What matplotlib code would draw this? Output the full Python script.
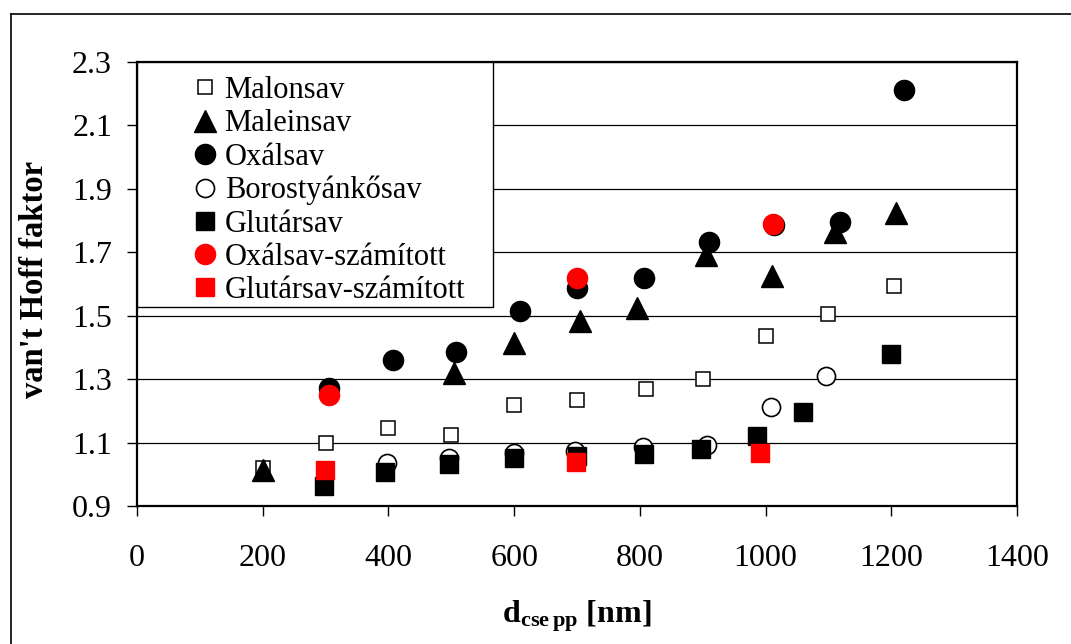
import matplotlib
matplotlib.use("Agg")
import matplotlib.pyplot as plt
from matplotlib.patches import Rectangle
from matplotlib.lines import Line2D

plt.rcParams['font.family'] = ['Liberation Serif', 'DejaVu Serif']
plt.rcParams['mathtext.fontset'] = 'custom'
plt.rcParams['mathtext.rm'] = 'Liberation Serif'
plt.rcParams['mathtext.bf'] = 'Liberation Serif:bold'

# measured van't Hoff factors vs. droplet diameter [nm]
malon_x = [200, 300, 400, 500, 600, 700, 810, 900, 1000, 1100, 1205]
malon_y = [1.02, 1.10, 1.145, 1.125, 1.22, 1.234, 1.27, 1.30, 1.436, 1.504, 1.594]

malein_x = [200, 505, 600, 705, 795, 905, 1010, 1110, 1207]
malein_y = [1.013, 1.32, 1.414, 1.483, 1.523, 1.69, 1.625, 1.765, 1.825]

oxal_x = [305, 407, 507, 610, 700, 806, 910, 1013, 1118, 1220]
oxal_y = [1.271, 1.36, 1.385, 1.515, 1.586, 1.618, 1.731, 1.785, 1.796, 2.212]

boro_x = [398, 497, 600, 697, 805, 907, 1008, 1096]
boro_y = [1.037, 1.05, 1.068, 1.075, 1.086, 1.093, 1.213, 1.31]

glut_x = [297, 395, 497, 599, 700, 806, 897, 987, 1059, 1200]
glut_y = [0.963, 1.007, 1.031, 1.05, 1.058, 1.064, 1.081, 1.12, 1.197, 1.378]

oxal_calc_x = [305, 700, 1012]
oxal_calc_y = [1.25, 1.618, 1.79]

glut_calc_x = [299, 699, 991]
glut_calc_y = [1.013, 1.04, 1.066]

fig = plt.figure(figsize=(10.71, 6.44), dpi=100)
ax = fig.add_axes([137 / 1071, 1 - 506 / 644, 880 / 1071, 444 / 644])

ax.plot(malon_x, malon_y, 's', ls='none', ms=10, mfc='white', mec='black', mew=1.1,
        label='Malonsav', zorder=3)
ax.plot(malein_x, malein_y, '^', ls='none', ms=15.5, color='black',
        label='Maleinsav', zorder=3)
ax.plot(oxal_x, oxal_y, 'o', ls='none', ms=14.5, color='black',
        label='Oxálsav', zorder=3)
ax.plot(boro_x, boro_y, 'o', ls='none', ms=13, mfc='white', mec='black', mew=1.2,
        label='Borostyánkősav', zorder=3)
ax.plot(glut_x, glut_y, 's', ls='none', ms=13.5, color='black',
        label='Glutársav', zorder=3)
ax.plot(oxal_calc_x, oxal_calc_y, 'o', ls='none', ms=14.5, color='red',
        label='Oxálsav-számított', zorder=3)
ax.plot(glut_calc_x, glut_calc_y, 's', ls='none', ms=13, color='red',
        label='Glutársav-számított', zorder=3)

ax.set_xlim(0, 1400)
ax.set_ylim(0.9, 2.3)
ax.set_xticks(range(0, 1401, 200))
ax.set_yticks([0.9, 1.1, 1.3, 1.5, 1.7, 1.9, 2.1, 2.3])
ax.set_yticklabels(['0.9', '1.1', '1.3', '1.5', '1.7', '1.9', '2.1', '2.3'])
ax.yaxis.grid(True, color='black', lw=0.9)
ax.set_axisbelow(True)
ax.tick_params(axis='both', direction='out', length=7, width=1, labelsize=23)
ax.tick_params(axis='y', pad=11)
ax.tick_params(axis='x', pad=20)
for sp in ax.spines.values():
    sp.set_linewidth(1.6)

ax.set_ylabel("van't Hoff faktor", fontsize=23.5, fontweight='bold')
ax.yaxis.set_label_coords(-87 / 880, 0.51)
ax.set_xlabel(r'$\mathbf{d_{cse\,pp}}$ [nm]', fontsize=23, fontweight='bold')
ax.xaxis.set_label_coords(0.5, -92 / 444)

# legend box drawn separately so its width can be set
box = Rectangle((0, 0.448), 0.4045, 0.552, transform=ax.transAxes,
                facecolor='white', edgecolor='black', lw=1.0, zorder=4)
ax.add_patch(box)
leg = ax.legend(loc='upper left', bbox_to_anchor=(54 / 880, 1 - 14 / 444),
                frameon=False, fontsize=22, handlelength=0.9,
                handletextpad=0.2, labelspacing=0.14, borderpad=0,
                borderaxespad=0, numpoints=1)
leg.set_zorder(5)

# outer frame of the figure
fig.add_artist(Line2D([10.5 / 1071, 10.5 / 1071], [0, 1 - 13.5 / 644],
                      color='black', lw=1.2))
fig.add_artist(Line2D([10.5 / 1071, 1], [1 - 13.5 / 644, 1 - 13.5 / 644],
                      color='black', lw=1.2))

fig.savefig('out.png', dpi=100)
